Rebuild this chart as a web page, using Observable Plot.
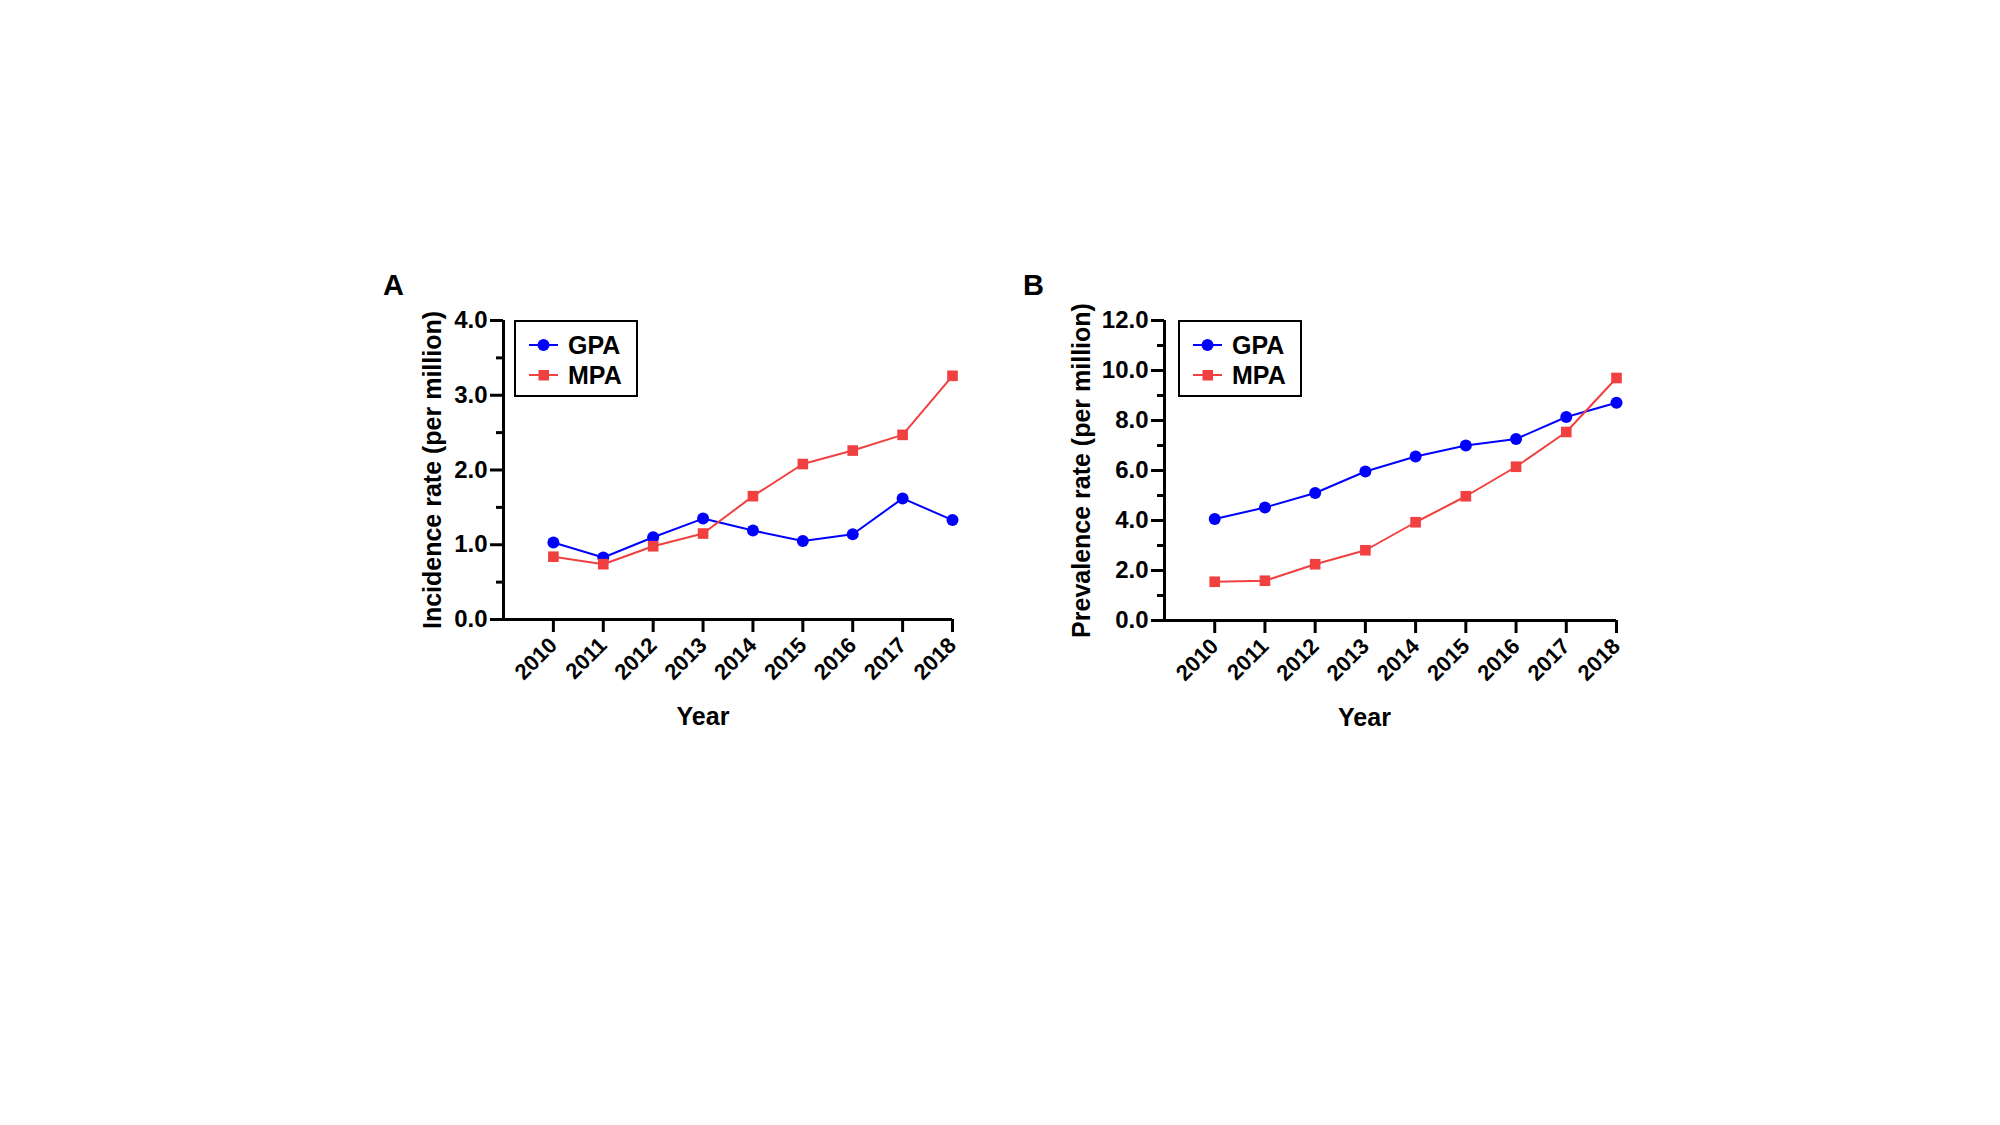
<!DOCTYPE html>
<html><head><meta charset="utf-8">
<script src="https://cdn.jsdelivr.net/npm/d3@7"></script>
<script src="https://cdn.jsdelivr.net/npm/@observablehq/plot@0.6"></script>
<style>
html,body{margin:0;padding:0;background:#fff;}
body{width:2000px;height:1125px;position:relative;overflow:hidden;font-family:"Liberation Sans",Arial,Helvetica,sans-serif;}
.legend{position:absolute;border:2px solid #000;box-sizing:border-box;background:#fff;}
.legend .row{position:absolute;left:0;height:30px;display:flex;align-items:center;font-weight:bold;font-size:25px;color:#000;}
.legend .row svg{display:block;}
</style></head><body>
<script>
const years = [2010, 2011, 2012, 2013, 2014, 2015, 2016, 2017, 2018];
const incidenceGPA = [1.03, 0.83, 1.10, 1.35, 1.19, 1.05, 1.14, 1.62, 1.33];
const incidenceMPA = [0.84, 0.74, 0.98, 1.15, 1.65, 2.08, 2.26, 2.47, 3.26];
const prevalenceGPA = [4.06, 4.52, 5.10, 5.96, 6.56, 7.00, 7.26, 8.14, 8.71];
const prevalenceMPA = [1.55, 1.59, 2.25, 2.81, 3.93, 4.97, 6.15, 7.54, 9.70];
const seriesNames = ["GPA", "MPA"];
const seriesColors = ["#0000ff", "#f04040"];
const seriesSymbols = ["circle", "square"];
const incidenceTicks = [0, 1, 2, 3, 4];
const incidenceMinor = [0.5, 1.5, 2.5, 3.5];
const prevalenceTicks = [0, 2, 4, 6, 8, 10, 12];
const prevalenceMinor = [1, 3, 5, 7, 9, 11];
const panelLetters = ["A", "B"];
const yLabels = ["Incidence rate (per million)", "Prevalence rate (per million)"];
const xLabel = "Year";

const FONT = '"Liberation Sans", Arial, Helvetica, sans-serif';

function panel(cfg) {
  const rows = [];
  years.forEach((yr, i) => {
    rows.push({year: yr, value: cfg.gpa[i], series: seriesNames[0]});
    rows.push({year: yr, value: cfg.mpa[i], series: seriesNames[1]});
  });
  const x0 = years[0] - 1, x1 = years[years.length - 1];
  const yMax = cfg.ticks[cfg.ticks.length - 1];
  const svg = Plot.plot({
    width: cfg.width, height: cfg.height,
    marginLeft: cfg.ml, marginRight: cfg.mr, marginTop: cfg.mt, marginBottom: cfg.mb,
    style: {position: "absolute", left: cfg.left + "px", top: cfg.top + "px", overflow: "visible",
            background: "transparent", fontFamily: FONT, fontWeight: "bold", fontSize: "23px", color: "#000"},
    x: {type: "linear", domain: [x0, x1]},
    y: {domain: [0, yMax]},
    color: {domain: seriesNames, range: seriesColors},
    symbol: {domain: seriesNames, range: seriesSymbols},
    marks: [
      Plot.axisY(cfg.minor, {tickSize: 7, tickFormat: () => "", label: null, strokeWidth: 3}),
      Plot.axisY(cfg.ticks, {tickSize: 13, tickPadding: 3, tickFormat: d3.format(".1f"), label: null,
                             strokeWidth: 3, fontSize: 24, fontWeight: "bold"}),
      Plot.axisX(years, {tickSize: 13, tickPadding: 9, tickRotate: -45, tickFormat: d => String(d), label: null,
                         strokeWidth: 3, fontSize: 22, fontWeight: "bold"}),
      Plot.ruleX([x0], {y1: 0, y2: yMax, strokeWidth: 3, stroke: "#000"}),
      Plot.ruleY([0], {x1: x0, x2: x1, strokeWidth: 3, stroke: "#000"}),
      Plot.line(rows, {x: "year", y: "value", z: "series", stroke: "series", strokeWidth: 2}),
      Plot.dot(rows, {x: "year", y: "value", fill: "series", symbol: "series", r: 6, stroke: "none"}),
      Plot.text([cfg.yLabel], {frameAnchor: "left", rotate: -90, dx: cfg.yLabelDx, textAnchor: "middle",
                               lineAnchor: "middle", fontSize: 25, fontWeight: "bold", fill: "#000"}),
      Plot.text([xLabel], {frameAnchor: "bottom", dx: cfg.xLabelDx, dy: 97, textAnchor: "middle",
                           lineAnchor: "middle", fontSize: 25, fontWeight: "bold", fill: "#000"}),
      Plot.text([cfg.letter], {frameAnchor: "top-left", dx: cfg.letterDx, dy: -35, textAnchor: "middle",
                               lineAnchor: "middle", fontSize: 29, fontWeight: "bold", fill: "#000"})
    ]
  });
  document.body.appendChild(svg);

  // legend
  const lg = document.createElement("div");
  lg.className = "legend";
  lg.style.left = cfg.legendLeft + "px";
  lg.style.top = cfg.legendTop + "px";
  lg.style.width = "124px";
  lg.style.height = "77px";
  seriesNames.forEach((name, i) => {
    const row = document.createElement("div");
    row.className = "row";
    row.style.top = (8 + i * 30) + "px";
    const s = d3.create("svg").attr("width", 52).attr("height", 30);
    s.append("line").attr("x1", 13).attr("x2", 42).attr("y1", 15).attr("y2", 15)
      .attr("stroke", seriesColors[i]).attr("stroke-width", 2);
    if (seriesSymbols[i] === "circle") {
      s.append("circle").attr("cx", 27.5).attr("cy", 15).attr("r", 6).attr("fill", seriesColors[i]);
    } else {
      s.append("rect").attr("x", 22.5).attr("y", 10).attr("width", 10.5).attr("height", 10.5).attr("fill", seriesColors[i]);
    }
    row.appendChild(s.node());
    const t = document.createElement("span");
    t.textContent = name;
    row.appendChild(t);
    lg.appendChild(row);
  });
  document.body.appendChild(lg);
}

panel({letter: panelLetters[0], yLabel: yLabels[0], gpa: incidenceGPA, mpa: incidenceMPA,
       ticks: incidenceTicks, minor: incidenceMinor,
       left: 340, top: 260, width: 640, height: 500, ml: 163, mr: 28, mt: 60, mb: 141,
       yLabelDx: -71, xLabelDx: -25, letterDx: -110, legendLeft: 514, legendTop: 320});
panel({letter: panelLetters[1], yLabel: yLabels[1], gpa: prevalenceGPA, mpa: prevalenceMPA,
       ticks: prevalenceTicks, minor: prevalenceMinor,
       left: 1000, top: 260, width: 640, height: 500, ml: 164, mr: 24, mt: 60, mb: 140,
       yLabelDx: -83, xLabelDx: -26, letterDx: -131, legendLeft: 1178, legendTop: 320});
</script>
</body></html>
